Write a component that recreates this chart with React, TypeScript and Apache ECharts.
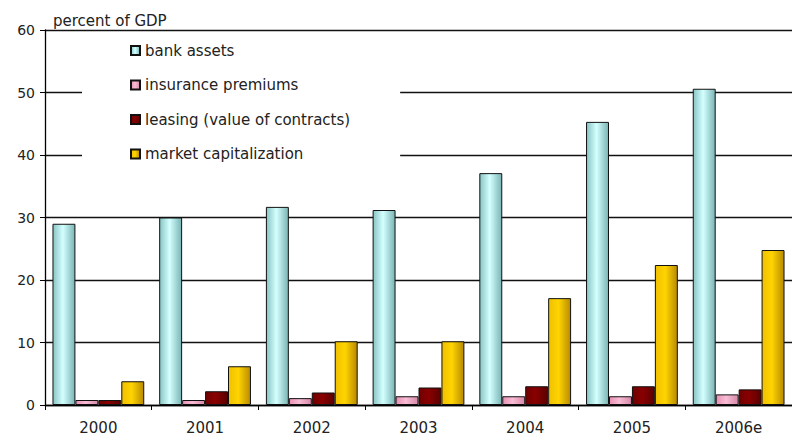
import React, { useEffect, useRef } from "react";
import * as echarts from "echarts";

const categories = ["2000", "2001", "2002", "2003", "2004", "2005", "2006e"];
const bankAssets = [29.0, 30.0, 31.7, 31.2, 37.1, 45.3, 50.6];
const insurancePremiums = [0.8, 0.8, 1.1, 1.4, 1.4, 1.4, 1.7];
const leasing = [0.8, 2.2, 2.0, 2.8, 3.0, 3.0, 2.5];
const marketCap = [3.8, 6.2, 10.2, 10.2, 17.1, 22.4, 24.8];
const yTicks = [0, 10, 20, 30, 40, 50, 60];

const FONT = "DejaVu Sans, Arial, sans-serif";

export default function App() {
  const ref = useRef<HTMLDivElement>(null);
  useEffect(() => {
    if (!ref.current) return;
    const chart = echarts.init(ref.current, null, { renderer: "svg" });
    const grad = (a: string, b: string, c: string) =>
      new echarts.graphic.LinearGradient(0, 0, 1, 0, [
        { offset: 0, color: a },
        { offset: 0.45, color: b },
        { offset: 1, color: c },
      ]);
    const border = { borderColor: "#111", borderWidth: 1 };
    chart.setOption({
      animation: false,
      backgroundColor: "#fff",
      textStyle: { fontFamily: FONT },
      title: {
        text: "percent of GDP",
        left: 48,
        top: 8,
        textStyle: { fontSize: 15, fontWeight: "normal", color: "#222", fontFamily: FONT },
      },
      grid: { left: 45, top: 30, bottom: 32, right: -12 },
      legend: {
        orient: "vertical",
        left: 82,
        top: 33,
        padding: [10, 50, 10, 48],
        backgroundColor: "#fff",
        itemWidth: 9,
        itemHeight: 9,
        itemGap: 19.5,
        icon: "rect",
        textStyle: { fontSize: 15, lineHeight: 14, color: "#222", fontFamily: FONT },
        data: [
          "bank assets",
          "insurance premiums",
          "leasing (value of contracts)",
          "market capitalization",
        ],
      },
      xAxis: {
        type: "category",
        data: categories,
        axisLine: { lineStyle: { color: "#000", width: 1.3 } },
        axisTick: { show: true, length: 5, lineStyle: { color: "#000" } },
        axisLabel: { fontSize: 15, color: "#222", margin: 15, fontFamily: FONT },
      },
      yAxis: {
        type: "value",
        min: 0,
        max: 60,
        interval: 10,
        axisLine: { show: true, lineStyle: { color: "#000", width: 1.3 } },
        axisTick: { show: true, length: 5, lineStyle: { color: "#000" } },
        axisLabel: {
          fontSize: 14,
          color: "#222",
          margin: 10,
          fontFamily: FONT,
          formatter: (v: number) => (yTicks.includes(v) ? String(v) : ""),
        },
        splitLine: { show: true, lineStyle: { color: "#111", width: 1.4 } },
      },
      series: [
        {
          name: "bank assets",
          type: "bar",
          data: bankAssets,
          barGap: "0%",
          barCategoryGap: "14%",
          itemStyle: { color: grad("#88c4c4", "#d4ffff", "#7ab4b4"), ...border },
        },
        {
          name: "insurance premiums",
          type: "bar",
          data: insurancePremiums,
          itemStyle: { color: grad("#e890b4", "#f8bcd4", "#d888a8"), ...border },
        },
        {
          name: "leasing (value of contracts)",
          type: "bar",
          data: leasing,
          itemStyle: { color: grad("#700000", "#8a0000", "#5a0000"), ...border },
        },
        {
          name: "market capitalization",
          type: "bar",
          data: marketCap,
          itemStyle: { color: grad("#f0c000", "#ffd400", "#b88a00"), ...border },
        },
      ],
    });
    return () => chart.dispose();
  }, []);
  return (
    <div
      ref={ref}
      style={{ position: "absolute", left: 0, top: 0, width: 792, height: 437 }}
    />
  );
}
